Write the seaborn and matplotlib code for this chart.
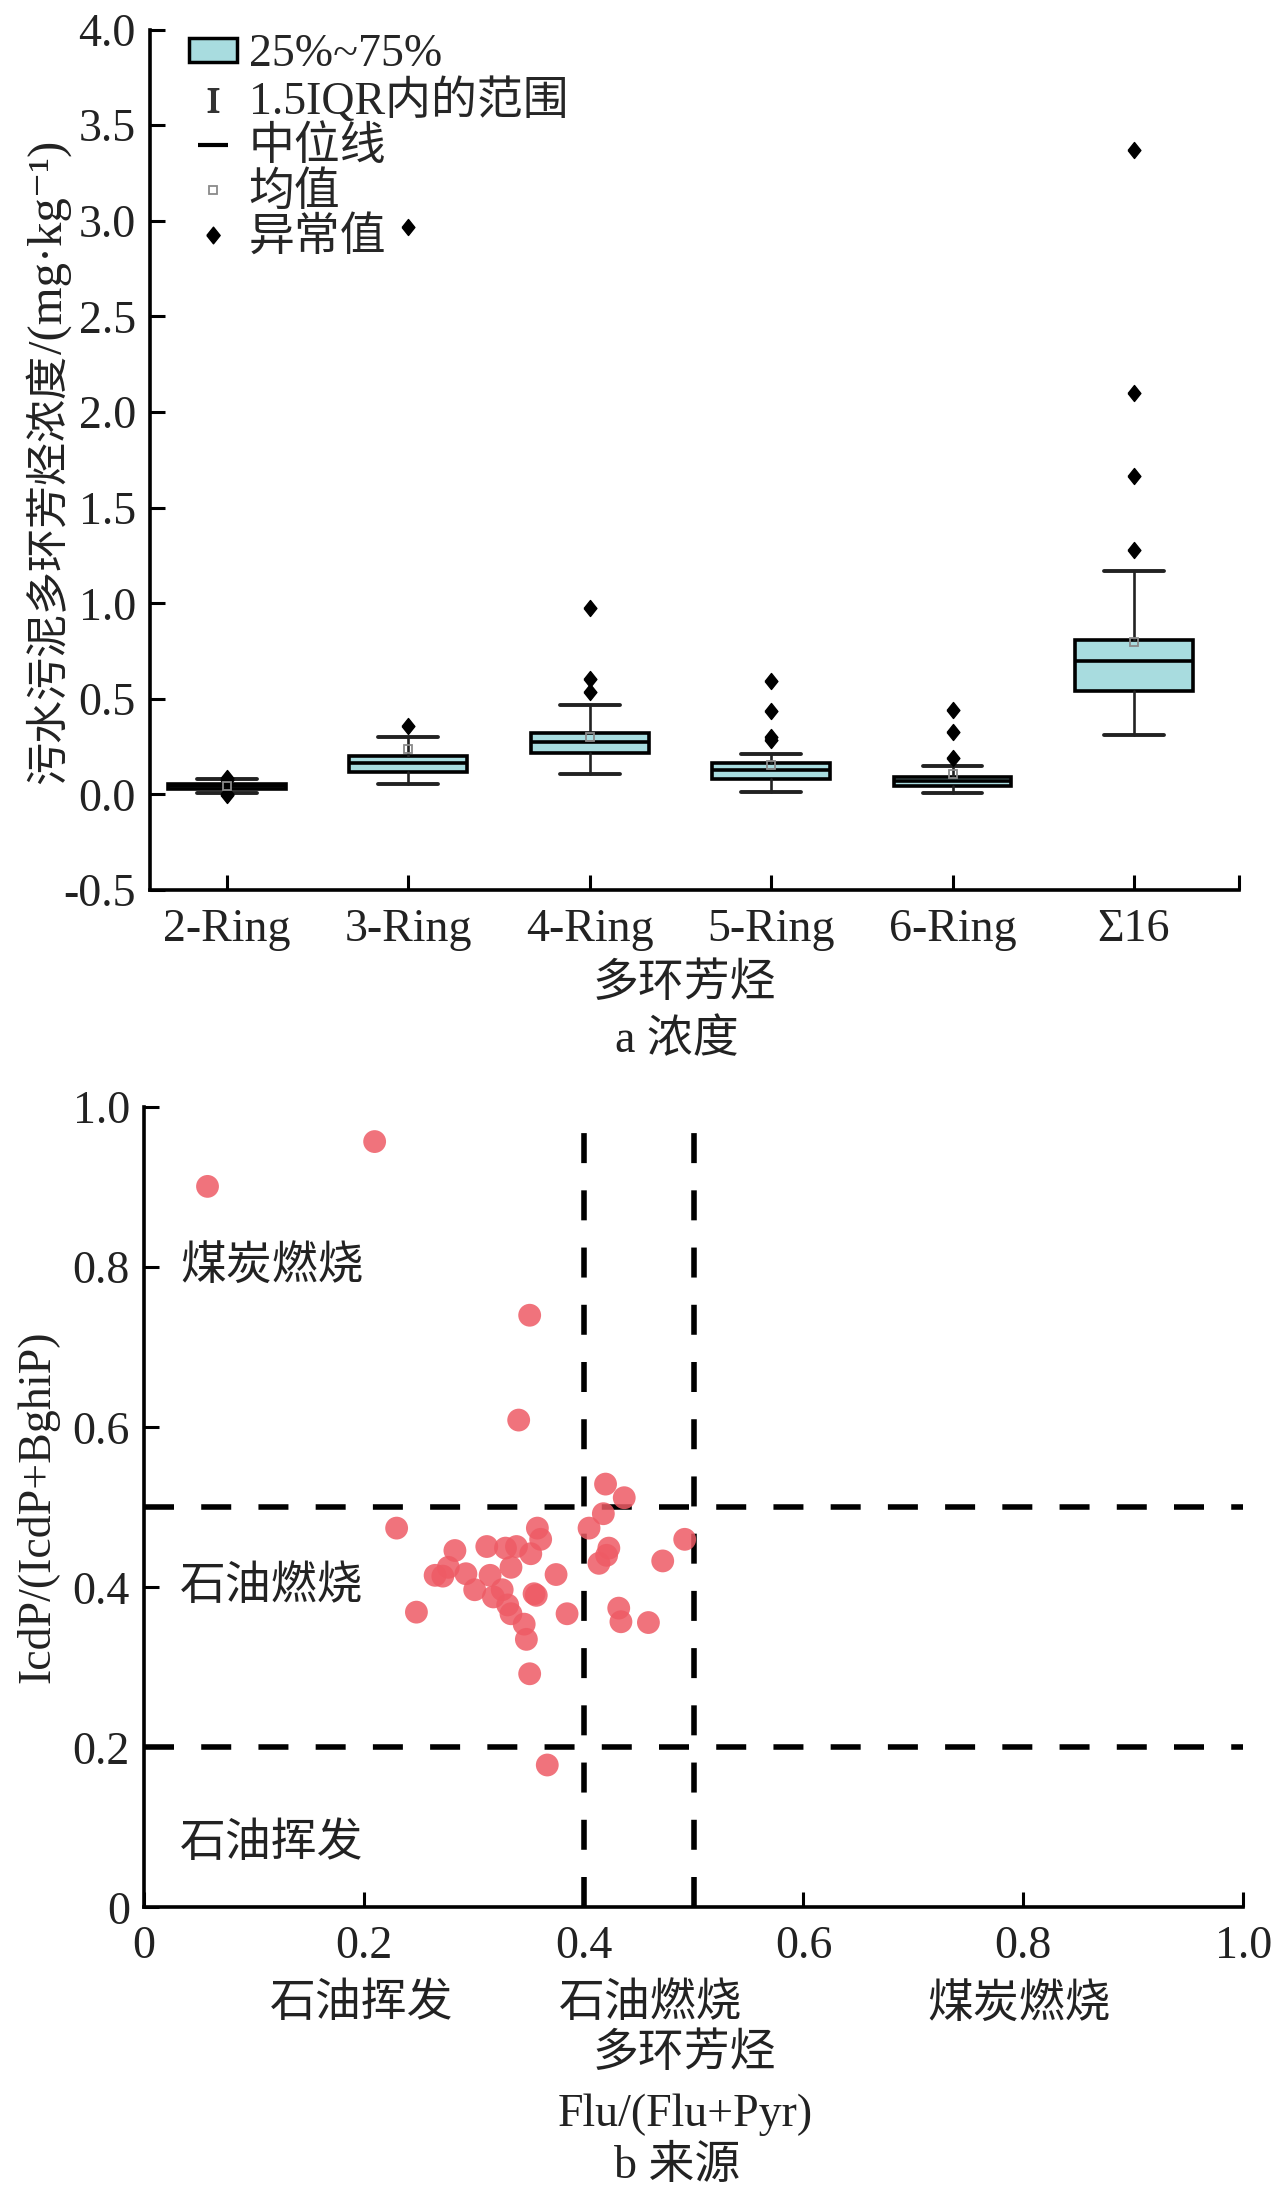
import numpy as np
import pandas as pd
import matplotlib
matplotlib.use('Agg')
import matplotlib.pyplot as plt
import seaborn as sns
from matplotlib.patches import Patch
from matplotlib.lines import Line2D

# ---------------- data: panel a (box statistics, mg/kg) ----------------
categories = ['2-Ring', '3-Ring', '4-Ring', '5-Ring', '6-Ring', 'Σ16']
q1 = [0.029, 0.117, 0.216, 0.083, 0.043, 0.540]
median = [0.043, 0.166, 0.272, 0.126, 0.069, 0.700]
q3 = [0.057, 0.200, 0.322, 0.166, 0.090, 0.810]
whisker_low = [0.009, 0.055, 0.105, 0.014, 0.009, 0.309]
whisker_high = [0.081, 0.302, 0.469, 0.214, 0.147, 1.170]
means = [0.045, 0.240, 0.298, 0.155, 0.107, 0.800]
outliers = [
    [0.085, 0.075, 0.0, -0.005],
    [0.359, 2.97],
    [0.534, 0.603, 0.975],
    [0.284, 0.302, 0.434, 0.595],
    [0.19, 0.326, 0.441],
    [1.28, 1.665, 2.10, 3.37],
]
top_yticks = [-0.5, 0.0, 0.5, 1.0, 1.5, 2.0, 2.5, 3.0, 3.5, 4.0]
top_yticklabels = ['-0.5', '0.0', '0.5', '1.0', '1.5', '2.0', '2.5', '3.0', '3.5', '4.0']
legend_labels = ['25%~75%', '1.5IQR内的范围', '中位线', '均值', '异常值']

# ---------------- data: panel b (source ratios) ----------------
flu_ratio = [0.058, 0.210, 0.351, 0.341, 0.420, 0.437, 0.418, 0.405, 0.230, 0.492,
             0.358, 0.361, 0.283, 0.312, 0.329, 0.339, 0.352, 0.423, 0.421, 0.414,
             0.472, 0.334, 0.277, 0.265, 0.272, 0.293, 0.315, 0.375, 0.301, 0.326,
             0.355, 0.357, 0.318, 0.331, 0.334, 0.248, 0.385, 0.432, 0.434, 0.459,
             0.346, 0.348, 0.351, 0.367]
icdp_ratio = [0.901, 0.957, 0.740, 0.609, 0.529, 0.512, 0.492, 0.474, 0.474, 0.460,
              0.474, 0.460, 0.446, 0.451, 0.449, 0.451, 0.442, 0.449, 0.440, 0.430,
              0.433, 0.425, 0.425, 0.415, 0.414, 0.417, 0.415, 0.416, 0.397, 0.397,
              0.392, 0.390, 0.388, 0.378, 0.367, 0.369, 0.367, 0.374, 0.357, 0.356,
              0.354, 0.335, 0.292, 0.178]
x_thresholds = [0.4, 0.5]
y_thresholds = [0.2, 0.5]
b_ticks = [0.0, 0.2, 0.4, 0.6, 0.8, 1.0]
b_ticklabels = ['0', '0.2', '0.4', '0.6', '0.8', '1.0']
region_labels = ['煤炭燃烧', '石油燃烧', '石油挥发']
region_label_y = [0.80, 0.40, 0.079]
x_source_labels = ['石油挥发', '石油燃烧', '煤炭燃烧']
x_source_label_x = [0.198, 0.461, 0.796]

# ---------------- style ----------------
sns.set_theme(style='ticks')
FONTS = ['Liberation Serif', 'Noto Sans CJK SC', 'DejaVu Sans']
plt.rcParams['font.family'] = FONTS
plt.rcParams['axes.unicode_minus'] = False
plt.rcParams['mathtext.fontset'] = 'stix'

FS = 33
TXT = '#222222'
BOX_FILL = '#a8dcdf'
DOT = '#ee5b65'
DIAMOND = [(-0.8, 0.0), (0.0, 1.0), (0.8, 0.0), (0.0, -1.0), (-0.8, 0.0)]

fig = plt.figure(figsize=(12.8, 21.95), dpi=100)
ax1 = fig.add_axes([0.117, 0.5945, 0.851, 0.392])
ax2 = fig.add_axes([0.1123, 0.131, 0.859, 0.3646])

# ---------------- panel a ----------------
stats = []
for i, c in enumerate(categories):
    stats.append(dict(label=c, q1=q1[i], med=median[i], q3=q3[i],
                      whislo=whisker_low[i], whishi=whisker_high[i],
                      mean=means[i], fliers=outliers[i]))
ax1.bxp(stats, positions=list(range(len(categories))), widths=0.65, capwidths=0.33,
        patch_artist=True, showmeans=True,
        boxprops=dict(facecolor=BOX_FILL, edgecolor='black', linewidth=2.6),
        medianprops=dict(color='black', linewidth=2.6),
        whiskerprops=dict(color='#222222', linewidth=1.9),
        capprops=dict(color='#222222', linewidth=2.8),
        meanprops=dict(marker='s', markerfacecolor='none', markeredgecolor='#8a8a8a',
                       markersize=6, markeredgewidth=1.3),
        flierprops=dict(marker=DIAMOND, markerfacecolor='black', markeredgecolor='black',
                        markersize=11.5))
ax1.set_xlim(-0.424, 5.579)
ax1.set_ylim(-0.5, 4.0)
ax1.set_yticks(top_yticks)
ax1.set_yticklabels(top_yticklabels)
ax1.set_xticks(list(range(len(categories))))
ax1.set_xticklabels(categories)
ax1.set_xticks([5.579], minor=True)

handles = [
    Patch(facecolor=BOX_FILL, edgecolor='black', linewidth=2.5),
    Line2D([], [], linestyle='none', marker=r'$\mathrm{I}$', color='#333333', markersize=17),
    Line2D([], [], linestyle='none', marker='_', color='black', markersize=22, markeredgewidth=3),
    Line2D([], [], linestyle='none', marker='s', markerfacecolor='none',
           markeredgecolor='#8a8a8a', markersize=6, markeredgewidth=1.3),
    Line2D([], [], linestyle='none', marker=DIAMOND, color='black', markersize=12),
]
ax1.legend(handles, legend_labels, loc='upper left', bbox_to_anchor=(0.036, 0.995),
           frameon=False, fontsize=FS, handlelength=1.05, handleheight=0.45,
           handletextpad=0.25, labelspacing=0.05, borderaxespad=0, borderpad=0)

# ---------------- panel b ----------------
sns.scatterplot(x=flu_ratio, y=icdp_ratio, ax=ax2, color=DOT, s=270, alpha=0.85,
                edgecolor='none', zorder=3)
for xv in x_thresholds:
    ax2.axvline(xv, color='black', linewidth=4, linestyle=(0, (5.4, 4.9)), zorder=2)
for yv in y_thresholds:
    ax2.axhline(yv, color='black', linewidth=4, linestyle=(0, (5.4, 4.9)), zorder=2)
ax2.set_xlim(0, 1)
ax2.set_ylim(0, 1)
ax2.set_xticks(b_ticks)
ax2.set_xticklabels(b_ticklabels)
ax2.set_yticks(b_ticks)
ax2.set_yticklabels(b_ticklabels)
for lab, yv in zip(region_labels, region_label_y):
    ax2.text(0.033, yv, lab, ha='left', va='center', fontsize=FS, color=TXT)
for lab, xv in zip(x_source_labels, x_source_label_x):
    ax2.text(xv, -0.122, lab, ha='center', va='center', fontsize=FS, color=TXT,
             transform=ax2.get_xaxis_transform())

for ax in (ax1, ax2):
    sns.despine(ax=ax)
    for s in ('left', 'bottom'):
        ax.spines[s].set_linewidth(2.6)
        ax.spines[s].set_color('black')
    ax.tick_params(axis='both', which='both', direction='in', length=11, width=2.2,
                   colors='black', labelsize=FS, labelcolor=TXT)
    ax.tick_params(axis='x', which='both', pad=13)
    ax.tick_params(axis='y', pad=10)
    ax.grid(False)
    ax.set_facecolor('white')

# ---------------- labels ----------------
ylab_a = fig.text(0.039, 0.6427, '污水污泥多环芳烃浓度', rotation=90, ha='center', va='bottom',
                  fontsize=31, color=TXT)
ax1.annotate('/(mg·kg⁻¹)', xy=(0.5, 1.0), xycoords=ylab_a, rotation=90, ha='center',
             va='bottom', fontsize=35, color=TXT, annotation_clip=False)
fig.text(0.535, 0.5515, '多环芳烃', ha='center', va='center', fontsize=FS, color=TXT)
fig.text(0.529, 0.526, 'a 浓度', ha='center', va='center', fontsize=FS, color=TXT)

fig.text(0.0295, 0.3135, 'IcdP/(IcdP+BghiP)', rotation=90, ha='center', va='center',
         fontsize=FS, color=TXT)
fig.text(0.535, 0.064, '多环芳烃', ha='center', va='center', fontsize=FS, color=TXT)
fig.text(0.535, 0.0366, 'Flu/(Flu+Pyr)', ha='center', va='center', fontsize=FS, color=TXT)
fig.text(0.529, 0.013, 'b 来源', ha='center', va='center', fontsize=FS, color=TXT)

fig.savefig('out.png', dpi=100, facecolor='white')
